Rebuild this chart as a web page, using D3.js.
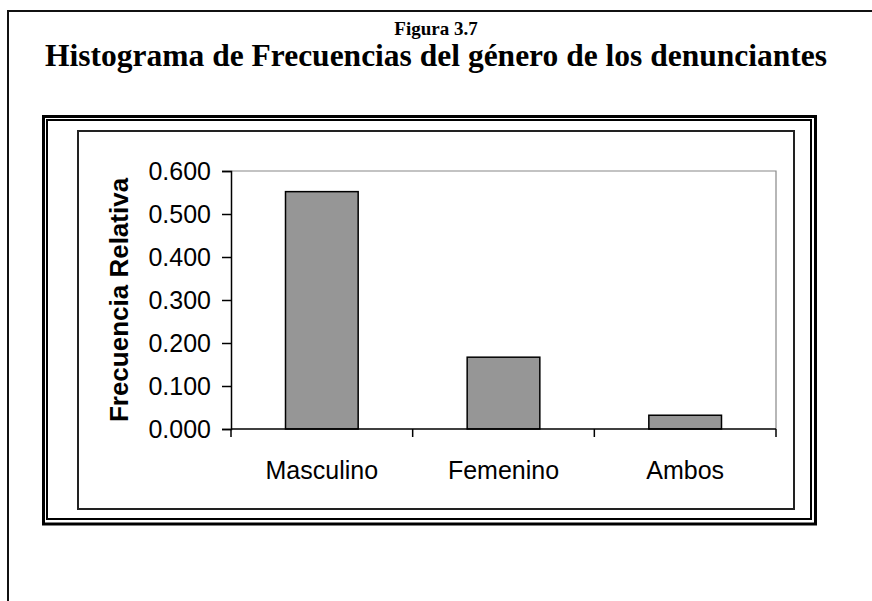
<!DOCTYPE html>
<html><head><meta charset="utf-8">
<script src="https://cdn.jsdelivr.net/npm/d3@7"></script>
<style>body{margin:0;background:#fff}svg{display:block}</style>
</head><body>
<svg id="c" width="872" height="601"></svg>
<script>
const categories = ["Masculino", "Femenino", "Ambos"];
const values = [0.552, 0.167, 0.032];
const yTicks = [0, 0.1, 0.2, 0.3, 0.4, 0.5, 0.6];
const figLabel = "Figura 3.7";
const title = "Histograma de Frecuencias del género de los denunciantes";
const yTitle = "Frecuencia Relativa";

const svg = d3.select("#c");
const sans = "'Liberation Sans', Arial, sans-serif";
const serif = "'Liberation Serif', 'Times New Roman', serif";

// page border (top + left)
svg.append("path").attr("d", "M8,601 V11 H872").attr("fill", "none").attr("stroke", "#111").attr("stroke-width", 2);

// titles
svg.append("text").attr("x", 436).attr("y", 35).attr("text-anchor", "middle")
  .attr("font-family", serif).attr("font-weight", "bold").attr("font-size", 19).text(figLabel);
svg.append("text").attr("x", 436).attr("y", 66).attr("text-anchor", "middle")
  .attr("font-family", serif).attr("font-weight", "bold").attr("font-size", 31.5).text(title);

// double frame
svg.append("rect").attr("x", 43.5).attr("y", 116.5).attr("width", 772).attr("height", 407.5)
  .attr("fill", "none").attr("stroke", "#000").attr("stroke-width", 3);
svg.append("rect").attr("x", 47).attr("y", 120).attr("width", 764).attr("height", 399)
  .attr("fill", "none").attr("stroke", "#000").attr("stroke-width", 2);
// inner chart frame
svg.append("rect").attr("x", 78).attr("y", 131).attr("width", 716).attr("height", 378)
  .attr("fill", "none").attr("stroke", "#222").attr("stroke-width", 2);

const L = 231, R = 776, T = 171, B = 429;
const x = d3.scaleBand().domain(categories).range([L, R]).paddingInner(0).paddingOuter(0);
const y = d3.scaleLinear().domain([0, 0.6]).range([B, T]);
const bw = x.bandwidth() * 0.4;

// plot area border (gray top/right)
svg.append("path").attr("d", `M${L},${T} H${R} V${B}`).attr("fill", "none").attr("stroke", "#888").attr("stroke-width", 1.2);

// bars
svg.selectAll("rect.bar").data(values).join("rect").attr("class", "bar")
  .attr("x", (d, i) => x(categories[i]) + (x.bandwidth() - bw) / 2)
  .attr("y", d => y(d)).attr("width", bw).attr("height", d => B - y(d))
  .attr("fill", "#969696").attr("stroke", "#000").attr("stroke-width", 1.5);

// y axis
const yAxis = d3.axisLeft(y).tickValues(yTicks).tickFormat(d3.format(".3f")).tickSize(9).tickPadding(11);
const gy = svg.append("g").attr("transform", `translate(${L},0)`).call(yAxis);
gy.select(".domain").attr("stroke", "#000").attr("stroke-width", 1.5);
gy.selectAll(".tick line").attr("stroke", "#000").attr("stroke-width", 1.5);
gy.selectAll(".tick text").attr("font-family", sans).attr("font-size", 25).attr("fill", "#000");

// x axis
const gx = svg.append("g");
gx.append("line").attr("x1", L).attr("x2", R).attr("y1", B).attr("y2", B).attr("stroke", "#000").attr("stroke-width", 1.5);
const bounds = categories.map(c => x(c)).concat([x(categories[categories.length - 1]) + x.bandwidth()]);
gx.selectAll("line.tk").data(bounds).join("line").attr("class", "tk")
  .attr("x1", d => d).attr("x2", d => d).attr("y1", B).attr("y2", B + 8).attr("stroke", "#000").attr("stroke-width", 1.5);
gx.selectAll("text").data(categories).join("text")
  .attr("x", d => x(d) + x.bandwidth() / 2).attr("y", 479).attr("text-anchor", "middle")
  .attr("font-family", sans).attr("font-size", 25).attr("fill", "#000").text(d => d);

// y title
svg.append("text").attr("transform", `translate(128,${(T + B) / 2}) rotate(-90)`).attr("text-anchor", "middle")
  .attr("font-family", sans).attr("font-weight", "bold").attr("font-size", 26).text(yTitle);
</script>
</body></html>
